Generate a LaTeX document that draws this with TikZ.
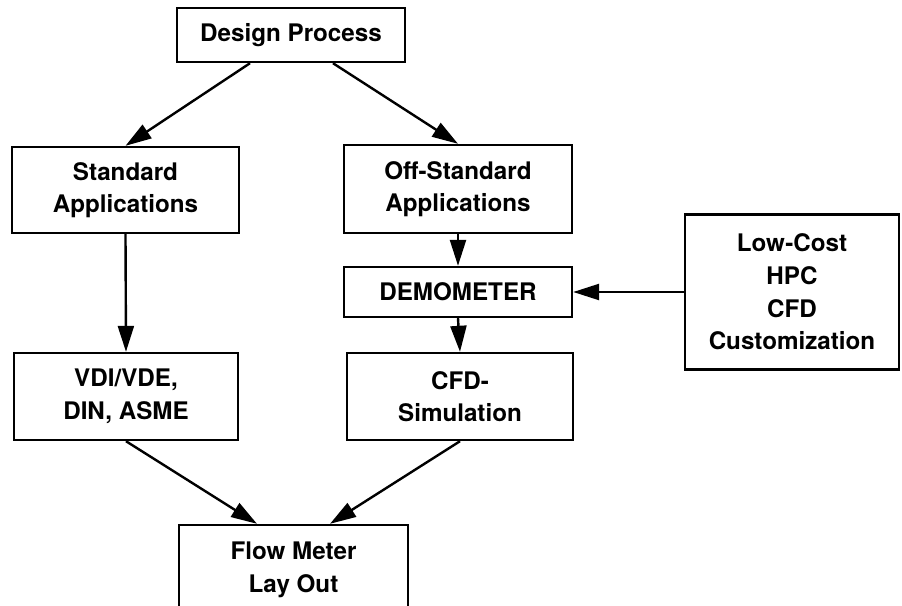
\documentclass[tikz,border=0pt]{standalone}
\usepackage{fontspec}
\setmainfont{TeX Gyre Heros}
\usetikzlibrary{arrows.meta}

\begin{document}
\begin{tikzpicture}[x=0.5pt,y=-0.5pt,
box/.style={draw,line width=1.2pt,align=center,inner sep=0pt,font=\bfseries\fontsize{12.1}{16.3}\selectfont},
arr/.style={line width=1.2pt,-{Triangle[length=13pt,width=8pt]}}]
\clip (0,0) rectangle (902,606);
\coordinate (A1) at (291,35);
\coordinate (B1) at (125.5,190);
\coordinate (B2) at (126,396.5);
\coordinate (C1) at (458,189);
\coordinate (C2) at (458,292);
\coordinate (C3) at (460,396.5);
\coordinate (E1) at (792,292);
\coordinate (F1) at (293.5,570);

\node[box,minimum width=114pt,minimum height=27pt] (D1) at (A1) {Design Process};
\node[box,minimum width=113.5pt,minimum height=43pt] (L1) at (B1) {Standard\\Applications};
\node[box,minimum width=112pt,minimum height=43.5pt] (L2) at (B2) {VDI/VDE,\\DIN, ASME};
\node[box,minimum width=114pt,minimum height=44pt] (R1) at (C1) {Off-Standard\\Applications};
\node[box,minimum width=114pt,minimum height=25pt] (R2) at (C2) {DEMOMETER};
\node[box,minimum width=113pt,minimum height=43.5pt] (R3) at (C3) {CFD-\\Simulation};
\node[box,minimum width=107pt,minimum height=77.5pt] (K1) at (E1) {Low-Cost\\HPC\\CFD\\Customization};
\node[box,minimum width=114.5pt,minimum height=45pt] (F2) at (F1) {Flow Meter\\Lay Out};

\draw[arr] ([xshift=-20.5pt]D1.south) -- (L1.north);
\draw[arr] ([xshift=21pt]D1.south) -- (R1.north);
\draw[arr] (L1.south) -- (L2.north);
\draw[arr] (R1.south) -- (R2.north);
\draw[arr] (R2.south) -- (R3.north);
\draw[arr] (K1.west) -- (R2.east);
\draw[arr] (L2.south) -- ([xshift=-18.25pt]F2.north);
\draw[arr] (R3.south) -- ([xshift=18.25pt]F2.north);
\end{tikzpicture}
\end{document}
